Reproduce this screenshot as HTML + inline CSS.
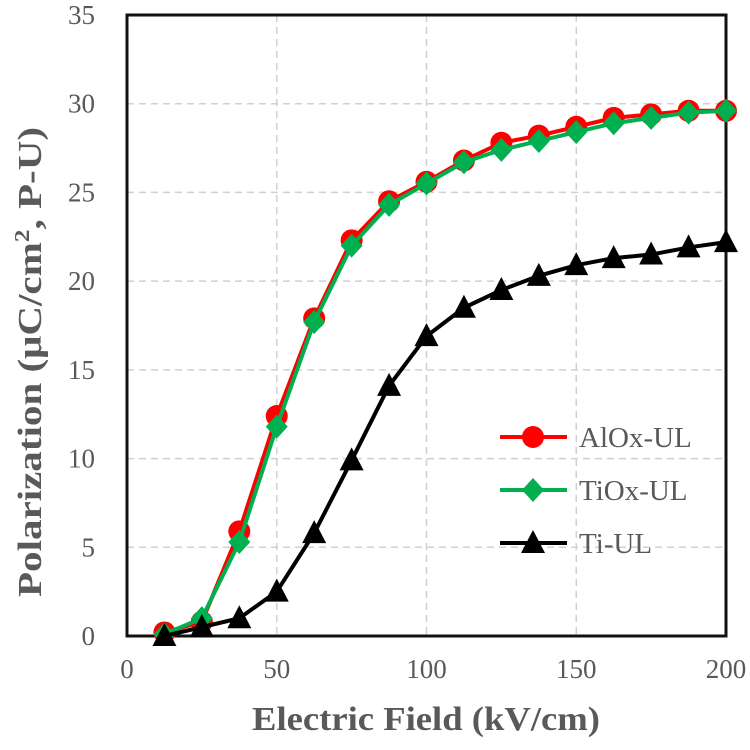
<!DOCTYPE html>
<html><head><meta charset="utf-8"><style>
body{margin:0;background:#fff}
svg text{font-family:"Liberation Serif",serif;fill:#595959}
</style></head><body>
<svg id="c" width="750" height="745"></svg>
<script>
const xVals=[12.5,25,37.5,50,62.5,75,87.5,100,112.5,125,137.5,150,162.5,175,187.5,200];
const alox=[0.2,0.8,5.9,12.4,17.9,22.3,24.5,25.6,26.8,27.8,28.2,28.7,29.2,29.4,29.6,29.6];
const tiox=[0.1,1.0,5.3,11.8,17.7,22.0,24.3,25.5,26.7,27.4,27.9,28.4,28.9,29.2,29.5,29.6];
const ti=[0,0.5,1.0,2.5,5.8,9.9,14.1,16.9,18.5,19.5,20.3,20.9,21.3,21.5,21.9,22.2];
const xTicks=[0,50,100,150,200];
const yTicks=[0,5,10,15,20,25,30,35];
const L=127,R=726,T=15,B=636;
const sx=v=>L+(R-L)*v/200, sy=v=>B-(B-T)*v/35;
const svg=document.getElementById('c');const NS='http://www.w3.org/2000/svg';
function mk(t,a,p){const e=document.createElementNS(NS,t);for(const k in a)e.setAttribute(k,a[k]);(p||svg).appendChild(e);return e;}
yTicks.forEach(v=>{
 if(v>0&&v<35){const g=mk('line',{x1:L,x2:R,y1:sy(v),y2:sy(v),stroke:'#d0d0d0','stroke-width':1.5,'stroke-dasharray':'7,5'});
 
 }
 const t=mk('text',{x:95,y:sy(v)+9,'text-anchor':'end','font-size':27});t.textContent=v;
 
 
});
xTicks.forEach(v=>{
 if(v>0&&v<200){const g=mk('line',{x1:sx(v),x2:sx(v),y1:T,y2:B,stroke:'#d0d0d0','stroke-width':1.5,'stroke-dasharray':'7,5'});
 
 }
 const t=mk('text',{x:sx(v),y:678,'text-anchor':'middle','font-size':27});t.textContent=v;
 
 
});
const fr=mk('rect',{x:L,y:T,width:R-L,height:B-T,fill:'none',stroke:'#111','stroke-width':3});


function series(d,col,shape,name){
 const g=mk('g',{});
 
 
 mk('polyline',{points:d.map((v,i)=>sx(xVals[i])+','+sy(v)).join(' '),fill:'none',stroke:col,'stroke-width':4},g);
 d.forEach((v,i)=>marker(sx(xVals[i]),sy(v),shape,col,g));
}
function marker(x,y,shape,col,g){
 let m;
 if(shape==='c')m=mk('circle',{cx:x,cy:y,r:11,fill:col},g);
 else if(shape==='d')m=mk('polygon',{points:`${x},${y-12} ${x+11},${y} ${x},${y+12} ${x-11},${y}`,fill:col},g);
 else m=mk('polygon',{points:`${x},${y-13} ${x+12},${y+10} ${x-12},${y+10}`,fill:col},g);
 
 
}
series(alox,'#ff0000','c','series-alox-ul');
series(tiox,'#00b050','d','series-tiox-ul');
series(ti,'#000000','t','series-ti-ul');
const leg=[['AlOx-UL','#ff0000','c',437],['TiOx-UL','#00b050','d',490],['Ti-UL','#000','t',543]];
leg.forEach(l=>{
 const g=mk('g',{});
 
 
 mk('line',{x1:500,x2:567,y1:l[3],y2:l[3],stroke:l[1],'stroke-width':4},g);
 marker(533,l[3],l[2],l[1],g);
 const t=mk('text',{x:579,y:l[3]+10,'font-size':29},g);t.textContent=l[0];
});
const xt=mk('text',{x:426,y:730,'text-anchor':'middle','font-size':34,'font-weight':'bold',textLength:348,lengthAdjust:'spacingAndGlyphs'});xt.textContent='Electric Field (kV/cm)';


const yt=mk('text',{x:0,y:0,'text-anchor':'middle','font-size':34,'font-weight':'bold',transform:'translate(41,362) rotate(-90)',textLength:470,lengthAdjust:'spacingAndGlyphs'});
yt.innerHTML='Polarization (μC/cm<tspan font-size="21" dy="-12">2</tspan><tspan dy="12">, P-U)</tspan>';


</script>
</body></html>
